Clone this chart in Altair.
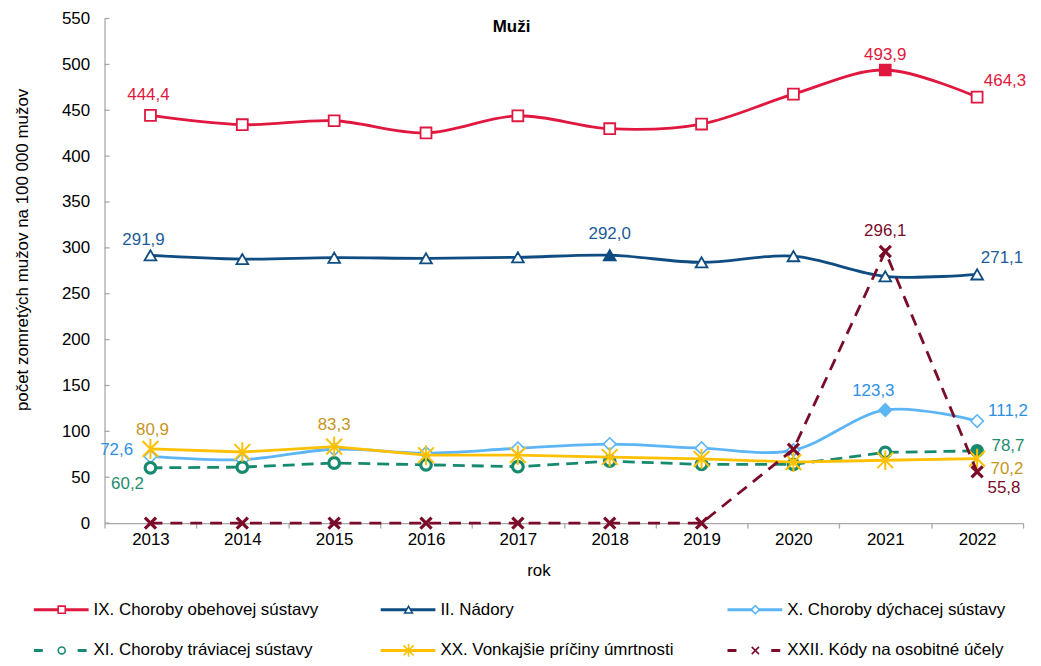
import altair as alt
import pandas as pd

# ---------------- data ----------------
years = [str(y) for y in range(2013, 2023)]
ix_obehova = [444.4, 434.3, 438.6, 425.3, 444.0, 429.9, 435.0, 467.6, 493.9, 464.3]
ii_nadory = [291.9, 287.8, 289.3, 288.6, 289.7, 292.0, 284.2, 291.0, 269.0, 271.1]
x_dychacia = [72.6, 69.1, 80.5, 76.3, 81.5, 86.1, 81.7, 79.5, 123.3, 111.2]
xi_traviaca = [60.2, 61.0, 65.5, 63.5, 61.5, 67.5, 64.0, 64.0, 77.0, 78.7]
xx_vonkajsie = [80.9, 77.5, 83.3, 74.0, 74.0, 72.0, 70.0, 66.5, 68.5, 70.2]
xxii_kody = [0, 0, 0, 0, 0, 0, 0, 80.5, 296.1, 55.8]

series_names = [
    "IX. Choroby obehovej sústavy",
    "II. Nádory",
    "X. Choroby dýchacej sústavy",
    "XI. Choroby tráviacej sústavy",
    "XX. Vonkajšie príčiny úmrtnosti",
    "XXII. Kódy na osobitné účely",
]
series_values = [ix_obehova, ii_nadory, x_dychacia, xi_traviaca, xx_vonkajsie, xxii_kody]
labeled_years = [
    ["2013", "2021", "2022"],
    ["2013", "2018", "2022"],
    ["2013", "2021", "2022"],
    ["2013", "2022"],
    ["2013", "2015", "2022"],
    ["2021", "2022"],
]
y_ticks = list(range(0, 551, 50))
chart_title = "Muži"
y_title = "počet zomretých mužov na 100 000 mužov"
x_title = "rok"

# ---------------- styles ----------------
FONT = "Liberation Sans"
AXIS_GRAY = "#A9A9A9"
ASTERISK = "M-1,-1L1,1M1,-1L-1,1M0,-1.25L0,1.25"
XSHAPE = "M-1,-1L1,1M1,-1L-1,1"
styles = [
    dict(color="#E0173E", label="#E0173E", shape="square", size=120, sw=1.8, dash=None, interp="cardinal", open=True),
    dict(color="#0E4C82", label="#1C5C98", shape="triangle-up", size=140, sw=1.8, dash=None, interp="cardinal", open=True),
    dict(color="#5CB5F5", label="#2E8FE3", shape="diamond", size=160, sw=1.6, dash=None, interp="cardinal", open=True),
    dict(color="#168A6E", label="#1E8C6E", shape="circle", size=115, sw=3.2, dash=[12, 7], interp="linear", open=True),
    dict(color="#FFC000", label="#C8961E", shape=ASTERISK, size=250, sw=2.0, dash=None, interp="linear", open=False),
    dict(color="#7A0C2A", label="#7A0C2A", shape=XSHAPE, size=125, sw=3.2, dash=[12, 8], interp="linear", open=False),
]
label_offsets = [
    {"2013": (-2, -20), "2021": (0, -15), "2022": (28, -16)},
    {"2013": (-7, -15), "2018": (0, -21), "2022": (25, -16)},
    {"2013": (-34, -6), "2021": (-12, -19), "2022": (31, -10)},
    {"2013": (-23, 16), "2022": (31, -5)},
    {"2013": (2, -19), "2015": (0, -22), "2022": (30, 10)},
    {"2021": (0, -21), "2022": (27, 16)},
]

W, H = 923, 507

x_enc = alt.X(
    "year:O",
    bandPosition=0.5,
    scale=alt.Scale(type="band", paddingInner=0, paddingOuter=0, domain=years),
    axis=alt.Axis(
        title=x_title, labelAngle=0, tickBand="extent", tickSize=5, labelPadding=4,
        domainColor=AXIS_GRAY, tickColor=AXIS_GRAY, domainWidth=1.3, tickWidth=1.3,
        labelFontSize=17, labelColor="#000000", titleFontSize=17, titleFontWeight="normal",
        titleColor="#000000", titleX=436, titleY=48, titleBaseline="middle",
    ),
)
y_enc = alt.Y(
    "value:Q",
    scale=alt.Scale(domain=[0, 550], nice=False, zero=True),
    axis=alt.Axis(
        title=y_title, values=y_ticks, tickSize=0, labelPadding=15, grid=False,
        domainColor=AXIS_GRAY, domainWidth=1.3, labelFontSize=17, labelColor="#000000",
        titleFontSize=17, titleFontWeight="normal", titleColor="#000000",
        titleX=-82, titleY=232, titleBaseline="middle", titleAlign="center",
    ),
)

layers = []
# inward y ticks
tick_df = pd.DataFrame({"value": y_ticks})
layers.append(
    alt.Chart(tick_df).mark_rule(color=AXIS_GRAY, strokeWidth=1.3).encode(
        y=y_enc, x=alt.value(0), x2=alt.value(5)
    )
)

for name, vals, st in zip(series_names, series_values, styles):
    vmax = max(vals)
    df = pd.DataFrame({
        "year": years,
        "value": vals,
        "fillc": [st["color"] if v == vmax else "#FFFFFF" for v in vals],
    })
    line_kw = dict(color=st["color"], strokeWidth=2.8, interpolate=st["interp"])
    if st["dash"]:
        line_kw["strokeDash"] = st["dash"]
    layers.append(alt.Chart(df).mark_line(**line_kw).encode(x=x_enc, y=y_enc))
    pt = alt.Chart(df).mark_point(
        shape=st["shape"], size=st["size"], stroke=st["color"], strokeWidth=st["sw"],
        filled=False, opacity=1,
    )
    if st["open"]:
        layers.append(pt.encode(x=x_enc, y=y_enc, fill=alt.Fill("fillc:N", scale=None)))
    else:
        layers.append(pt.encode(x=x_enc, y=y_enc))

for name, vals, st, lyears, offs in zip(series_names, series_values, styles, labeled_years, label_offsets):
    for yr in lyears:
        v = vals[years.index(yr)]
        ldf = pd.DataFrame({"year": [yr], "value": [v], "txt": [f"{v:.1f}".replace(".", ",")]})
        dx, dy = offs[yr]
        layers.append(
            alt.Chart(ldf).mark_text(
                color=st["label"], fontSize=17, dx=dx, dy=dy, align="center", baseline="middle"
            ).encode(x=x_enc, y=y_enc, text="txt:N")
        )

title_df = pd.DataFrame({"t": [chart_title]})
layers.append(
    alt.Chart(title_df).mark_text(
        fontSize=17, fontWeight="bold", color="#000000", align="center", baseline="middle"
    ).encode(x=alt.value(409), y=alt.value(9), text="t:N")
)

main = alt.layer(*layers).properties(width=W, height=H)

# ---------------- legend ----------------
leg_cols = [0, 1, 2, 0, 1, 2]
leg_rows = [0, 0, 0, 1, 1, 1]
lx = alt.X("col:Q", scale=alt.Scale(domain=[0, 2], range=[-71, 626]), axis=None)
ly = alt.Y("row:Q", scale=alt.Scale(domain=[0, 1], range=[14, 55]), axis=None)
leg_layers = []
for name, st, c, r in zip(series_names, styles, leg_cols, leg_rows):
    d = pd.DataFrame({"col": [c], "row": [r], "name": [name]})
    sk = dict(shape="stroke", size=55 * 55, stroke=st["color"], strokeWidth=3, filled=False,
              xOffset=27.5, opacity=1)
    if st["dash"]:
        sk["strokeDash"] = [9, 35]
    leg_layers.append(alt.Chart(d).mark_point(**sk).encode(x=lx, y=ly))
    mk = dict(shape=st["shape"], size=st["size"] * 0.42, stroke=st["color"], strokeWidth=1.6,
              filled=False, xOffset=28, opacity=1)
    if st["open"]:
        mk["fill"] = "#FFFFFF"
    leg_layers.append(alt.Chart(d).mark_point(**mk).encode(x=lx, y=ly))
    leg_layers.append(
        alt.Chart(d).mark_text(align="left", baseline="middle", dx=60, fontSize=17, color="#000000")
        .encode(x=lx, y=ly, text="name:N")
    )
legend = alt.layer(*leg_layers).properties(width=900, height=56)

chart = (
    alt.vconcat(main, legend, spacing=17)
    .properties(padding={"left": 5, "top": 0, "right": 5, "bottom": 0})
    .configure(font=FONT)
    .configure_view(strokeWidth=0)
)

chart.save("out.html", embed_options={"renderer": "svg", "actions": False})
